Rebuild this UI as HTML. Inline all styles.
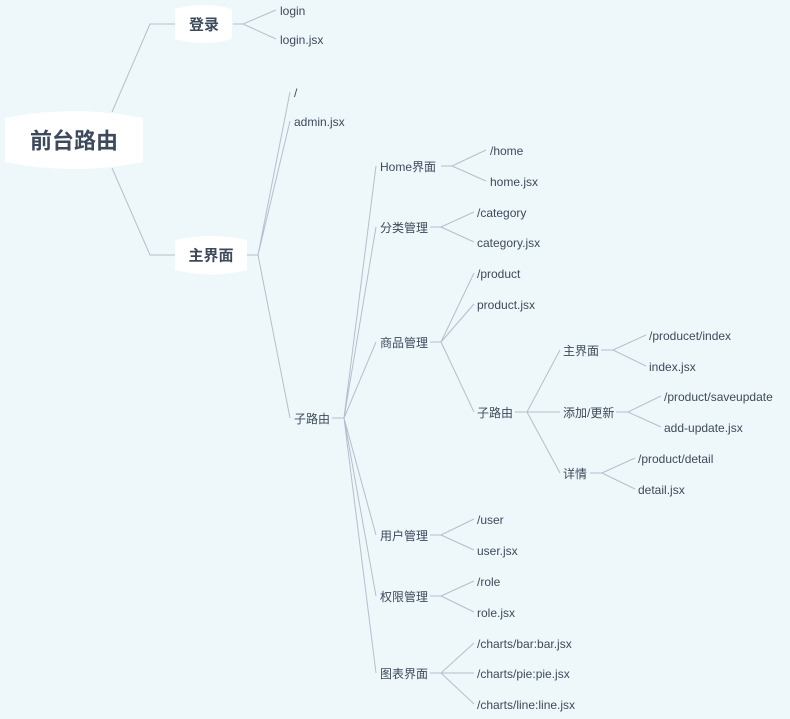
<!DOCTYPE html>
<html><head><meta charset="utf-8"><style>
html,body{margin:0;padding:0;background:#eef7fa;}
svg{display:block}
text{font-family:"Liberation Sans","Noto Sans CJK SC",sans-serif;fill:#3d4a5c;font-size:12px;dominant-baseline:central}
.b{font-weight:bold;font-size:15px}
</style></head><body>
<svg width="790" height="719" viewBox="0 0 790 719" xmlns="http://www.w3.org/2000/svg">
<g fill="none" stroke="#b3bfcc" stroke-width="1">
<path d="M112 112 L150 24 L175 24"/>
<path d="M112 168 L150 255 L175 255"/>
<path d="M233 24 H243 L276 10 M243 24 L276 39"/>
<path d="M247 255 H258 L290 92 M258 255 L290 121 M258 255 L290 418"/>
<path d="M332 418 H344 L376 166 M344 418 L376 227 M344 418 L376 342 M344 418 L376 535 M344 418 L376 596 M344 418 L376 673"/>
<path d="M441 166 H452 L486 150 M452 166 L486 181"/>
<path d="M430 227 H441 L474 212 M441 227 L474 242"/>
<path d="M430 342 H441 L474 273 M441 342 L474 304 M441 342 L474 412"/>
<path d="M515 412 H527 L560 350 M527 412 L560 412 M527 412 L560 473"/>
<path d="M601 350 H613 L646 335 M613 350 L646 366"/>
<path d="M616 412 H628 L661 396 M628 412 L661 427"/>
<path d="M590 473 H602 L635 458 M602 473 L635 489"/>
<path d="M430 535 H441 L474 519 M441 535 L474 550"/>
<path d="M430 596 H441 L474 581 M441 596 L474 612"/>
<path d="M430 673 H441 L474 643 M441 673 L474 673 M441 673 L474 704"/>
</g>
<path d="M5 118 Q74 104 143 118 V162 Q74 176 5 162 Z" fill="#fff"/>
<text x="74" y="141" text-anchor="middle" style="font-weight:bold;font-size:22px">前台路由</text>
<path d="M175 9 Q204 1 232 9 V39 Q204 47 175 39 Z" fill="#fff"/>
<text x="204" y="25" text-anchor="middle" class="b">登录</text>
<path d="M175 240 Q211 232 247 240 V270 Q211 279 175 270 Z" fill="#fff"/>
<text x="211" y="256" text-anchor="middle" class="b">主界面</text>
<text x="280" y="11">login</text>
<text x="280" y="40">login.jsx</text>
<text x="294" y="93">/</text>
<text x="294" y="122">admin.jsx</text>
<text x="294" y="419">子路由</text>
<text x="380" y="167">Home界面</text>
<text x="380" y="228">分类管理</text>
<text x="380" y="343">商品管理</text>
<text x="380" y="536">用户管理</text>
<text x="380" y="597">权限管理</text>
<text x="380" y="674">图表界面</text>
<text x="490" y="151">/home</text>
<text x="490" y="182">home.jsx</text>
<text x="477" y="213">/category</text>
<text x="477" y="243">category.jsx</text>
<text x="477" y="274">/product</text>
<text x="477" y="305">product.jsx</text>
<text x="477" y="413">子路由</text>
<text x="563" y="351">主界面</text>
<text x="563" y="413">添加/更新</text>
<text x="563" y="474">详情</text>
<text x="649" y="336">/producet/index</text>
<text x="649" y="367">index.jsx</text>
<text x="664" y="397">/product/saveupdate</text>
<text x="664" y="428">add-update.jsx</text>
<text x="638" y="459">/product/detail</text>
<text x="638" y="490">detail.jsx</text>
<text x="477" y="520">/user</text>
<text x="477" y="551">user.jsx</text>
<text x="477" y="582">/role</text>
<text x="477" y="613">role.jsx</text>
<text x="477" y="644">/charts/bar:bar.jsx</text>
<text x="477" y="674">/charts/pie:pie.jsx</text>
<text x="477" y="705">/charts/line:line.jsx</text>
</svg>
</body></html>
